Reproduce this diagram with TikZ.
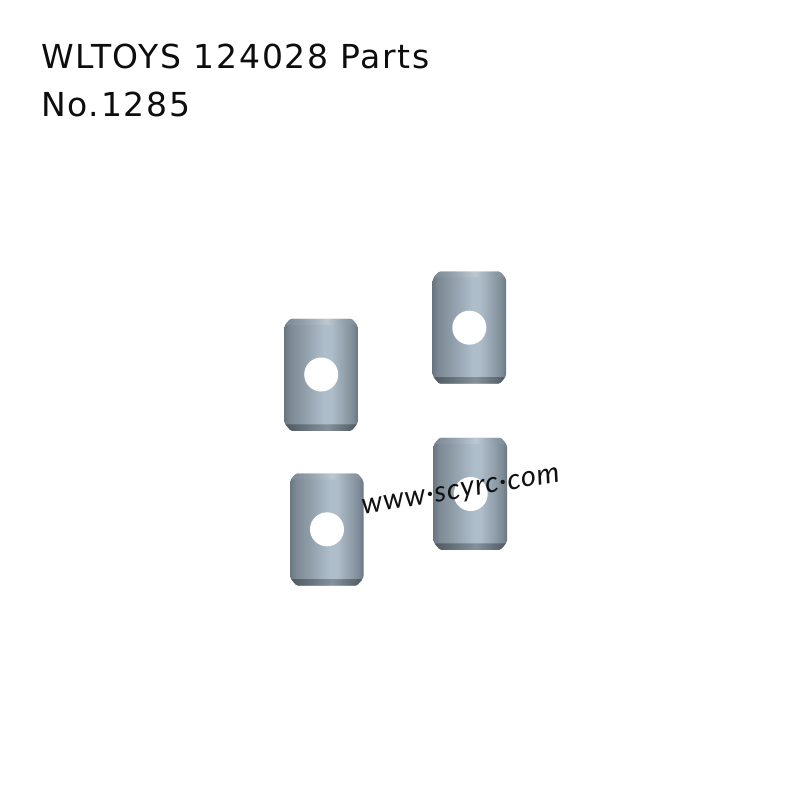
\documentclass[tikz,border=0pt]{standalone}
\usepackage{fontspec}
\setmainfont[LetterSpace=5.2]{DejaVu Sans}
\newfontfamily\markfont[LetterSpace=3]{Lato Italic}
\definecolor{wm}{HTML}{111111}
\definecolor{pinA}{HTML}{6A7680}
\definecolor{pinB}{HTML}{7D8A95}
\definecolor{pinC}{HTML}{8F9DA9}
\definecolor{pinE}{HTML}{AEBDCA}
\definecolor{pinF}{HTML}{BCC8D2}
\definecolor{pinG}{HTML}{4E5961}
\definecolor{pinH}{HTML}{66727B}
\definecolor{pinI}{HTML}{84919B}
\pgfdeclarehorizontalshading{pinbody}{100bp}{
 color(0bp)=(pinA);
 color(25bp)=(pinA);color(29bp)=(pinB);color(38bp)=(pinC);color(52bp)=(pinE);color(57bp)=(pinE);color(67bp)=(pinC);color(72bp)=(pinB);color(75bp)=(pinA);color(100bp)=(pinA)}
\pgfdeclarehorizontalshading{pintop}{100bp}{
 color(0bp)=(pinA);
 color(25bp)=(pinB);color(36bp)=(pinC);color(54bp)=(pinF);color(67bp)=(pinC);color(75bp)=(pinB);color(100bp)=(pinB)}
\pgfdeclarehorizontalshading{pinbot}{100bp}{
 color(0bp)=(pinG);
 color(25bp)=(pinG);color(38bp)=(pinH);color(54bp)=(pinI);color(66bp)=(pinH);color(75bp)=(pinG);color(100bp)=(pinG)}
\tikzset{
 titletext/.style={anchor=base west,inner sep=0pt,font=\fontsize{33}{33}\selectfont,text=black!95},
 pinout/.style={rounded corners=1.8pt,shading=pinbody},
 pinchamf/.style={rounded corners=1.2pt},
 pinhole/.style={fill=white,draw=none},
}
% left, top, hole centre x, hole centre y
\newcommand{\cpin}[4]{%
 \path[pinout] (#1+6,#2) -- (#1+67.5,#2) -- (#1+73.5,#2+7) -- (#1+73.5,#2+104.5) -- (#1+67,#2+112) -- (#1+6.5,#2+112) -- (#1,#2+104.5) -- (#1,#2+7) -- cycle;
 \path[pinchamf,shading=pintop] (#1+6,#2) -- (#1+67.5,#2) -- (#1+72.5,#2+6) -- (#1+1,#2+6) -- cycle;
 \path[pinchamf,shading=pinbot] (#1+1,#2+105.5) -- (#1+72.5,#2+105.5) -- (#1+67,#2+112) -- (#1+6.5,#2+112) -- cycle;
 \fill[pinhole] (#3,#4) circle (17);
}
\begin{document}
\begin{tikzpicture}[x=1pt,y=-1pt]
\useasboundingbox[fill=white] (0,0) rectangle (800,800);
\node[titletext] (t1) at (41,69) {WLTOYS 124028 Parts};
\node[titletext] (t2) at (41,116) {No.1285};
\cpin{432.7}{271.7}{469.3}{327.7}
\cpin{284.3}{318.8}{321.2}{374.5}
\cpin{290}{473.5}{327}{529.3}
\cpin{433.5}{437.8}{470.7}{494}
\node[rotate=9.5,inner sep=0pt,text=wm,font=\markfont\fontsize{29}{29}\selectfont] (wmk) at (461,493) {www·scyrc·com};
\end{tikzpicture}
\end{document}
